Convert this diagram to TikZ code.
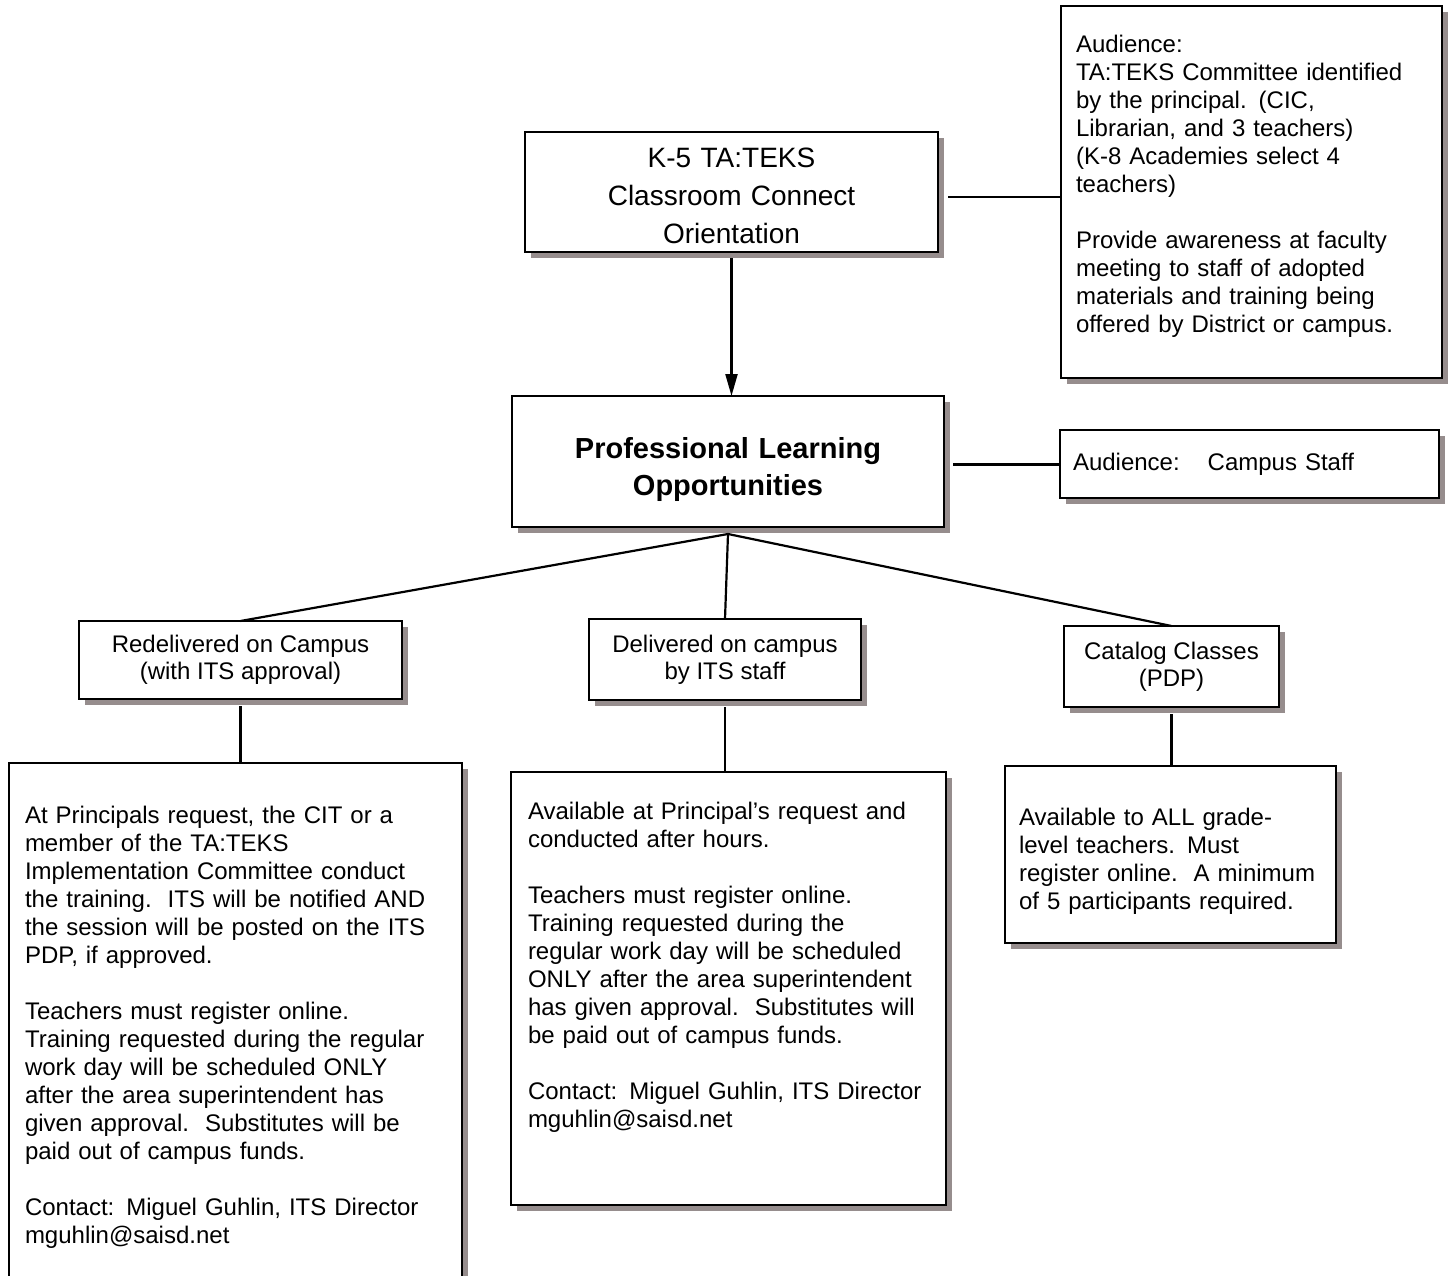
\documentclass[tikz,border=0pt]{standalone}
\usepackage{fontspec}
\setmainfont{Liberation Sans}
\usepackage{tikz}
\usetikzlibrary{arrows.meta,shadows}
\definecolor{shadowgray}{RGB}{150,141,141}
\begin{document}
\begin{tikzpicture}[x=1pt,y=-1pt,line width=2pt]
\useasboundingbox (0,0) rectangle (1452,1276);
\clip (0,0) rectangle (1452,1276);
\tikzstyle{box}=[draw,fill=white,outer sep=0pt,inner sep=0pt,drop shadow={shadow xshift=6pt,shadow yshift=-6pt,fill=shadowgray,opacity=1}]
\tikzstyle{body}=[font=\fontsize{24}{28}\selectfont,align=left,inner xsep=15pt,inner ysep=0pt]
\tikzstyle{head}=[box,font=\fontsize{24}{27}\selectfont,align=center]
\tikzstyle{link}=[line width=2.2pt]
\begin{scope}[every node/.append style={box}]
\node[anchor=north,text width=413pt,text height=36pt,text depth=84pt,font=\fontsize{28}{38}\selectfont,align=center] (tk) at (731.5,132) {K-5 TA:TEKS\\Classroom Connect\\Orientation}; %%
\node[anchor=north,text width=432pt,text height=62pt,text depth=69pt,font=\bfseries\fontsize{29}{37}\selectfont,align=center] (plo) at (728,396) {Professional Learning\\Opportunities}; %%
\node[body,anchor=north west,text width=351pt,text height=47pt,text depth=325pt] (aud) at (1061,6) {Audience:\\TA:TEKS Committee identified\\by the principal. (CIC,\\Librarian, and 3 teachers)\\(K-8 Academies select 4\\teachers)\\[28pt]Provide awareness at faculty\\meeting to staff of adopted\\materials and training being\\offered by District or campus.}; %%
\node[body,anchor=west,minimum height=68pt,text width=353pt,inner xsep=13pt] (staff) at (1060,464) {Audience:\hspace{28pt}Campus Staff}; %%
\end{scope}
% the three ways
\node[head,minimum width=323pt,minimum height=78pt] (redel) at (240.5,660) {Redelivered on Campus\\(with ITS approval)}; %%
\node[head,minimum width=272pt,minimum height=81pt] (deliv) at (725,659.5) {Delivered on campus\\by ITS staff}; %%
\node[head,minimum width=215pt,minimum height=81pt] (catal) at (1171.5,666.5) {Catalog Classes\\(PDP)}; %%
\node[box,body,anchor=north west,text width=421pt,inner xsep=16pt,text height=60pt,text depth=477pt] (redeltxt) at (9,763) {At Principals request, the CIT or a\\member of the TA:TEKS\\Implementation Committee conduct\\the training.\ \ ITS will be notified AND\\the session will be posted on the ITS\\PDP, if approved.\\[28pt]Teachers must register online.\\Training requested during the regular\\work day will be scheduled ONLY\\after the area superintendent has\\given approval.\ \ Substitutes will be\\paid out of campus funds.\\[28pt]Contact: Miguel Guhlin, ITS Director\\mguhlin@saisd.net}; %%
\node[box,body,anchor=north west,text width=401pt,inner xsep=17pt,text height=47pt,text depth=386pt] (delivtxt) at (511,772) {Available at Principal’s request and\\conducted after hours.\\[28pt]Teachers must register online.\\Training requested during the\\regular work day will be scheduled\\ONLY after the area superintendent\\has given approval.\ \ Substitutes will\\be paid out of campus funds.\\[28pt]Contact: Miguel Guhlin, ITS Director\\mguhlin@saisd.net}; %%
\node[box,body,anchor=north west,text width=303pt,inner xsep=14pt,text height=59pt,text depth=118pt] (cataltxt) at (1005,766) {Available to ALL grade-\\level teachers. Must\\register online.\ \ A minimum\\of 5 participants required.}; %%
%\draw[step=10pt,color=gray] (0,0) grid (1452,1276);%%
\draw[link] ([shift={(10,5)}]tk.east) -- ([shift={(0,5)}]tk.east -| aud.west); %%
\draw[link] ([shift={(9,3)}]plo.east) -- ([shift={(0,3)}]plo.east -| staff.west); %%
\draw[link,-{Triangle[length=22pt,width=12pt]}] ([shift={(0,6)}]tk.south) -- (tk.south |- plo.north); %%
\draw[link] ([shift={(0,7)}]plo.south) -- (redel.north); %%
\draw[link] ([shift={(0,7)}]plo.south) -- (deliv.north); %%
\draw[link] ([shift={(0,7)}]plo.south) -- (catal.north); %%
\draw[link] ([shift={(0,7)}]redel.south) -- (redel.south |- redeltxt.north); %%
\draw[link] ([shift={(0,7)}]deliv.south) -- (deliv.south |- delivtxt.north); %%
\draw[link] ([shift={(0,7)}]catal.south) -- (catal.south |- cataltxt.north); %%
\end{tikzpicture}
\end{document}
